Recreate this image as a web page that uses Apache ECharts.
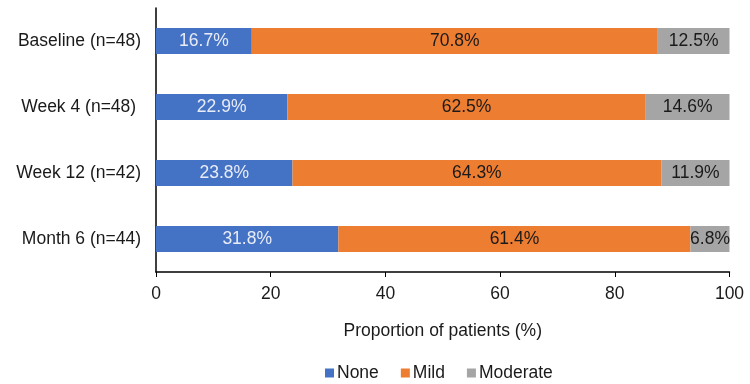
<!DOCTYPE html>
<html>
<head>
<meta charset="utf-8">
<script src="https://cdn.jsdelivr.net/npm/echarts@6/dist/echarts.min.js"></script>
<style>
  html, body { margin: 0; padding: 0; background: #fff; }
  #chart { width: 750px; height: 384px; }
</style>
</head>
<body>
<div id="chart"></div>
<script>
const categories = ['Baseline (n=48)', 'Week 4 (n=48) ', 'Week 12 (n=42)', 'Month 6 (n=44)'];
const noneValues = [16.7, 22.9, 23.8, 31.8];
const mildValues = [70.8, 62.5, 64.3, 61.4];
const moderateValues = [12.5, 14.6, 11.9, 6.8];
const seriesNames = ['None', 'Mild', 'Moderate'];
const xTicks = [0, 20, 40, 60, 80, 100];

const font = '"Liberation Sans", Arial, sans-serif';
const textColor = '#1a1a1a';
const fs = 17.5;

const chart = echarts.init(document.getElementById('chart'));

const makeSeries = (name, data, color, labelColor) => ({
  name,
  type: 'bar',
  stack: 'total',
  barWidth: 26,
  data,
  itemStyle: { color },
  label: {
    show: true,
    position: 'inside',
    color: labelColor,
    fontFamily: font,
    fontSize: fs,
    formatter: (p) => p.value.toFixed(1) + '%'
  },
  emphasis: { disabled: true }
});

chart.setOption({
  animation: false,
  grid: { left: 156, right: 20.5, top: 8, bottom: 112, containLabel: false },
  xAxis: {
    type: 'value',
    min: xTicks[0],
    max: xTicks[xTicks.length - 1],
    interval: 20,
    name: 'Proportion of patients (%)',
    nameLocation: 'middle',
    nameGap: 50,
    nameTextStyle: { color: textColor, fontFamily: font, fontSize: fs },
    axisLine: { show: true, lineStyle: { color: '#000', width: 1.5 } },
    axisTick: { show: true, length: 5, lineStyle: { color: '#000' } },
    axisLabel: { color: textColor, fontFamily: font, fontSize: fs, margin: 13 },
    splitLine: { show: false }
  },
  yAxis: {
    type: 'category',
    data: categories,
    inverse: true,
    axisLine: { show: true, lineStyle: { color: '#000', width: 1.5 } },
    axisTick: { show: false },
    axisLabel: { color: textColor, fontFamily: font, fontSize: fs, margin: 15 }
  },
  legend: {
    data: seriesNames,
    left: 320,
    top: 359,
    itemWidth: 9,
    itemHeight: 9,
    itemGap: 22,
    icon: 'rect',
    textStyle: { color: textColor, fontFamily: font, fontSize: fs, padding: [0, 0, 0, -2] }
  },
  series: [
    makeSeries(seriesNames[0], noneValues, '#4472C4', '#e8ecf6'),
    makeSeries(seriesNames[1], mildValues, '#ED7D31', textColor),
    makeSeries(seriesNames[2], moderateValues, '#A5A5A5', textColor)
  ]
});
</script>
</body>
</html>
